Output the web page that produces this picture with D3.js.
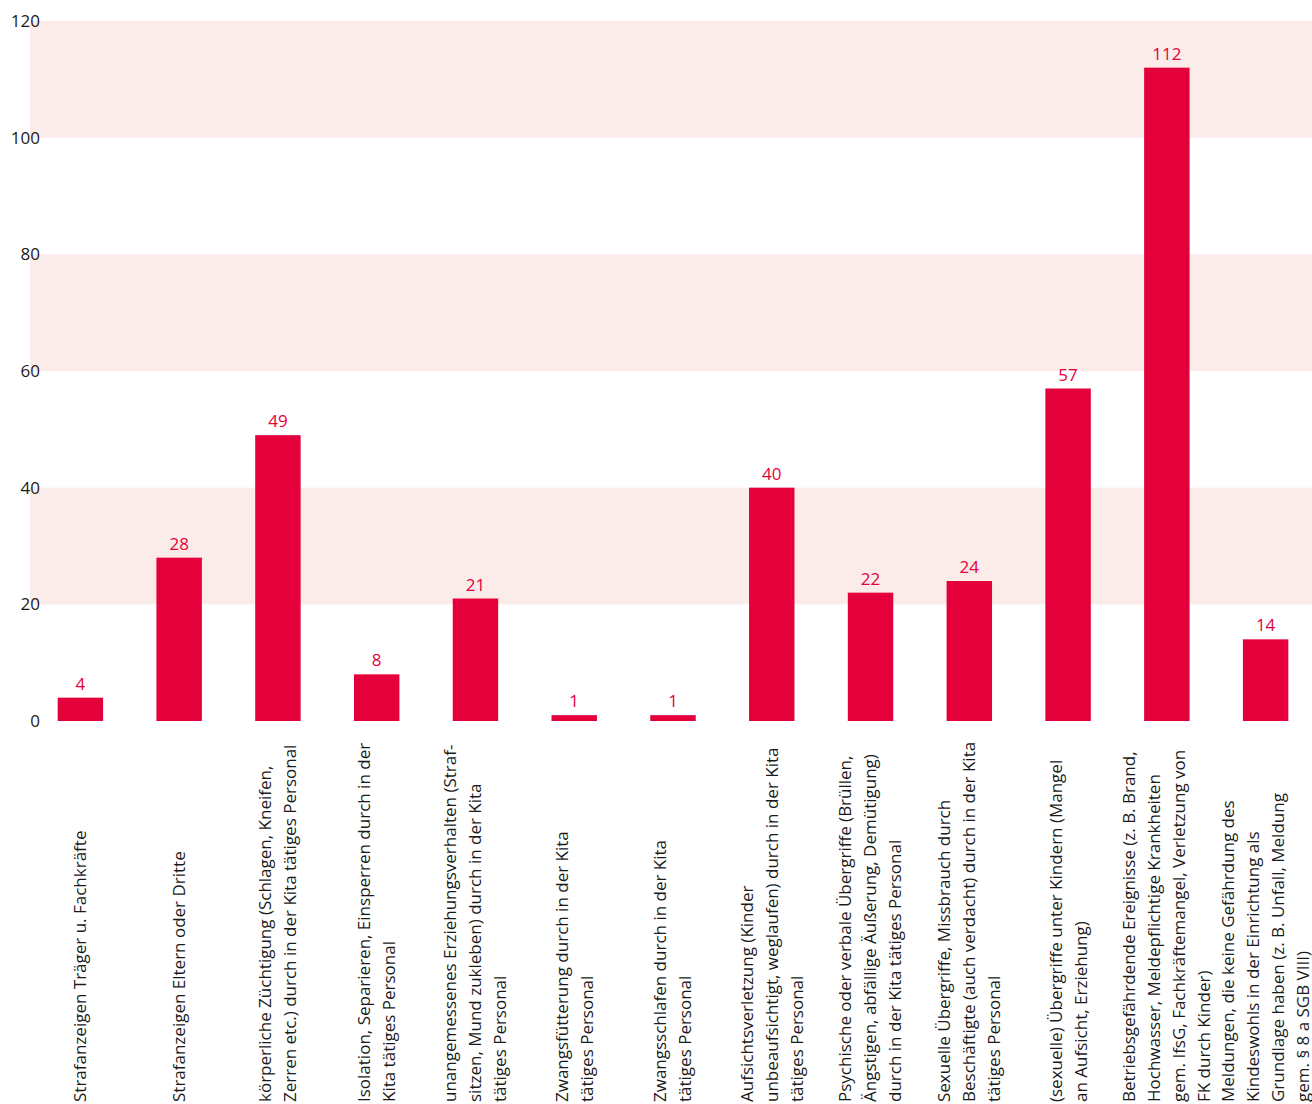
<!DOCTYPE html>
<html>
<head>
<meta charset="utf-8">
<script src="https://cdn.jsdelivr.net/npm/d3@7"></script>
<style>
  body { margin: 0; background: #fff; }
  svg text { font-family: "Open Sans", sans-serif; }
</style>
</head>
<body>
<svg id="chart"></svg>
<script>
// categories, each split into the lines shown under the bar
const categories = [
    ["Strafanzeigen Träger u. Fachkräfte"],
    ["Strafanzeigen Eltern oder Dritte"],
    ["körperliche Züchtigung (Schlagen, Kneifen,", "Zerren etc.) durch in der Kita tätiges Personal"],
    ["Isolation, Separieren, Einsperren durch in der", "Kita tätiges Personal"],
    ["unangemessenes Erziehungsverhalten (Straf-", "sitzen, Mund zukleben) durch in der Kita", "tätiges Personal"],
    ["Zwangsfütterung durch in der Kita", "tätiges Personal"],
    ["Zwangsschlafen durch in der Kita", "tätiges Personal"],
    ["Aufsichtsverletzung (Kinder", "unbeaufsichtigt, weglaufen) durch in der Kita", "tätiges Personal"],
    ["Psychische oder verbale Übergriffe (Brüllen,", "Ängstigen, abfällige Äußerung, Demütigung)", "durch in der Kita tätiges Personal"],
    ["Sexuelle Übergriffe, Missbrauch durch", "Beschäftigte (auch verdacht) durch in der Kita", "tätiges Personal"],
    ["(sexuelle) Übergriffe unter Kindern (Mangel", "an Aufsicht, Erziehung)"],
    ["Betriebsgefährdende Ereignisse (z. B. Brand,", "Hochwasser, Meldepflichtige Krankheiten", "gem. IfsG, Fachkräftemangel, Verletzung von", "FK durch Kinder)"],
    ["Meldungen, die keine Gefährdung des", "Kindeswohls in der Einrichtung als", "Grundlage haben (z. B. Unfall, Meldung", "gem. § 8 a SGB VIII)"]
];
const values = [4, 28, 49, 8, 21, 1, 1, 40, 22, 24, 57, 112, 14];
const yTicks = [0, 20, 40, 60, 80, 100, 120];

const width = 1312, height = 1104;
const svg = d3.select("#chart")
    .attr("width", width)
    .attr("height", height);

const x = d3.scaleBand()
    .domain(d3.range(values.length))
    .range([31, 1315])
    .paddingInner(0.54)
    .paddingOuter(0.27);

const y = d3.scaleLinear()
    .domain([0, 120])
    .range([721, 21]);

// alternating pink bands
const bands = [[20, 40], [60, 80], [100, 120]];
svg.append("g")
    .selectAll("rect")
    .data(bands)
    .join("rect")
    .attr("x", 30)
    .attr("width", 1312 - 30)
    .attr("y", d => y(d[1]))
    .attr("height", d => y(d[0]) - y(d[1]))
    .attr("fill", "#fbebe9");

// y axis, labels only
const yAxis = svg.append("g")
    .attr("transform", "translate(40,0)")
    .call(d3.axisLeft(y).tickValues(yTicks).tickSize(0).tickPadding(0));
yAxis.select(".domain").remove();
yAxis.selectAll("text")
    .style("font-size", "17px")
    .style("font-family", "'Open Sans', sans-serif")
    .attr("fill", "#1a1a1a");

// bars
svg.append("g")
    .selectAll("rect")
    .data(values)
    .join("rect")
    .attr("x", (d, i) => x(i))
    .attr("width", x.bandwidth())
    .attr("y", d => y(d))
    .attr("height", d => y(0) - y(d))
    .attr("fill", "#e4003a");

// value labels
svg.append("g")
    .selectAll("text")
    .data(values)
    .join("text")
    .attr("x", (d, i) => x(i) + x.bandwidth() / 2)
    .attr("y", d => y(d) - 8)
    .attr("text-anchor", "middle")
    .style("font-size", "17px")
    .attr("fill", "#e4003a")
    .text(d => d);

// rotated category labels
const lineGap = 25;
const labels = svg.append("g")
    .selectAll("text")
    .data(categories)
    .join("text")
    .attr("transform", (d, i) => `translate(${x(i) + x.bandwidth() / 2},1102) rotate(-90)`)
    .attr("text-anchor", "start")
    .style("font-size", "17px")
    .attr("fill", "#1a1a1a");

labels.selectAll("tspan")
    .data(d => d.map((t, j) => ({ t: t, j: j, n: d.length })))
    .join("tspan")
    .attr("x", 0)
    .attr("y", d => (d.j - (d.n - 1) / 2) * lineGap)
    .attr("dy", "0.35em")
    .text(d => d.t);
</script>
</body>
</html>
